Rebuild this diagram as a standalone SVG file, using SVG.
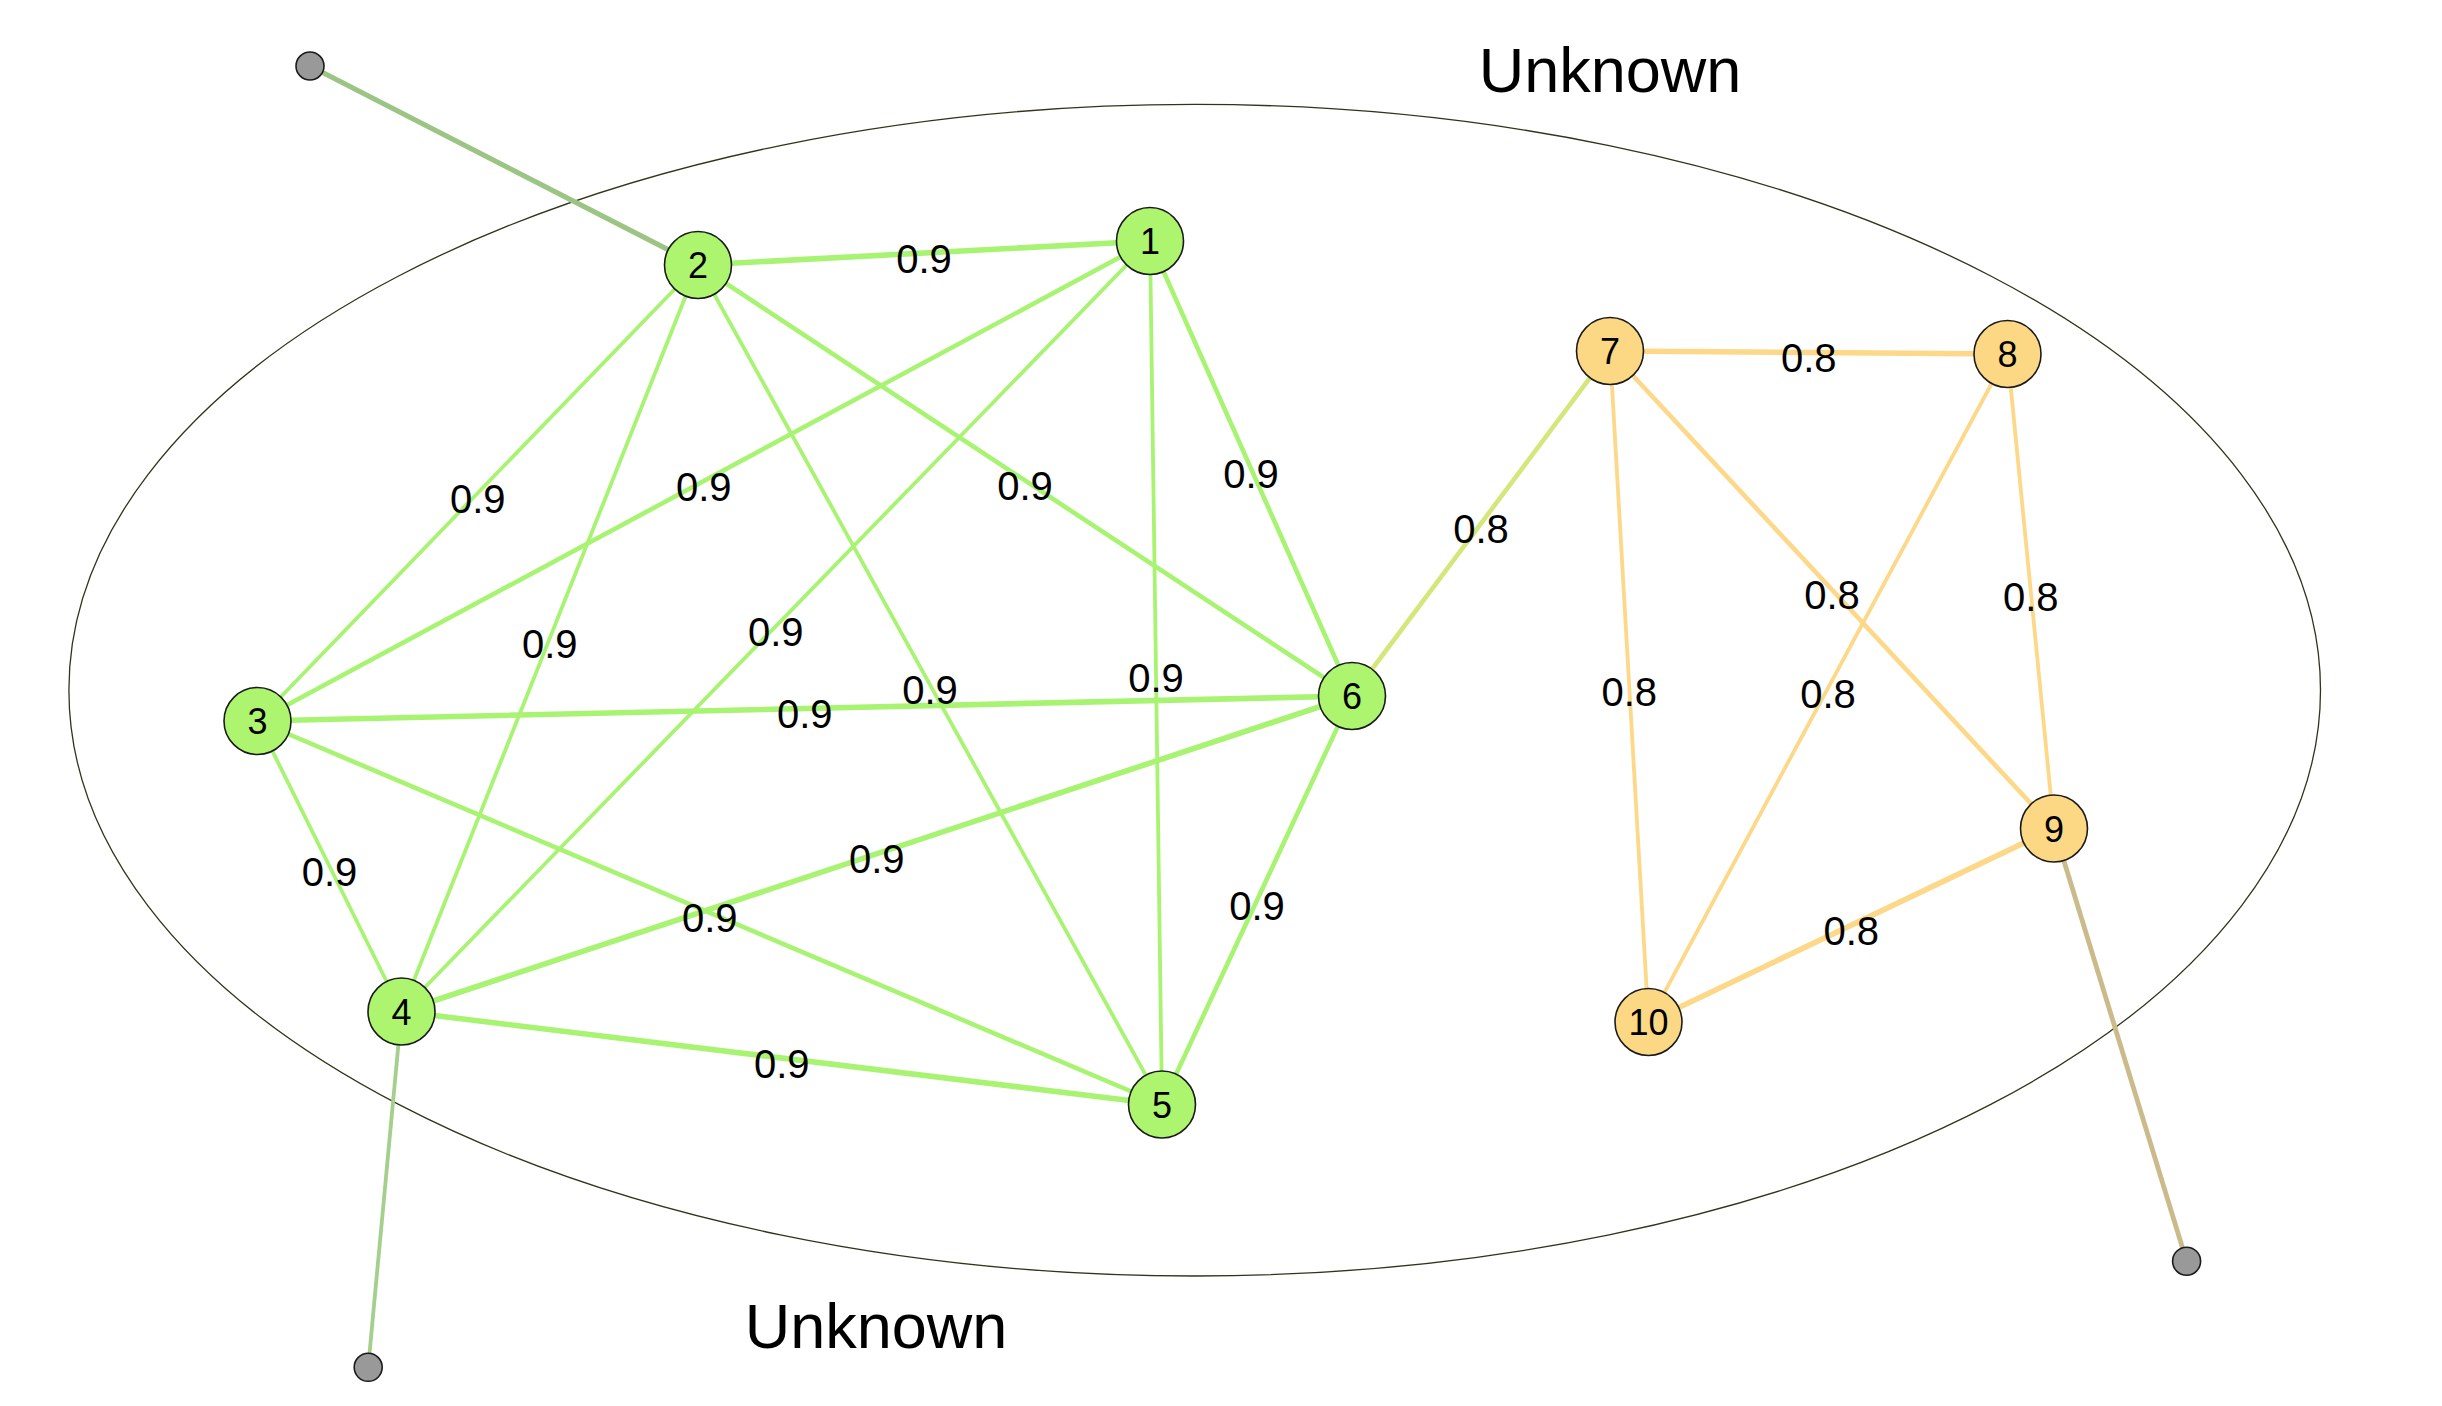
<svg xmlns="http://www.w3.org/2000/svg" width="2442" height="1406" viewBox="0 0 2442 1406">
<style>
.bg{fill:#ffffff}
.hull{fill:none;stroke:#33331a;stroke-width:1.3}
.eg{stroke:#a8f472;fill:none;stroke-linecap:round}
.eo{stroke:#fcd888;fill:none;stroke-linecap:round}
.t1{stroke-width:3.8}
.t2{stroke-width:4.6}
.t3{stroke-width:5.6}
.ng{fill:#adf56e;stroke:#1a1a1a;stroke-width:1.6}
.no{fill:#fcd884;stroke:#1a1a1a;stroke-width:1.6}
.nx{fill:#999999;stroke:#1a1a1a;stroke-width:1.6}
.nl{font-family:"Liberation Sans",Arial,sans-serif;font-size:36px;fill:#000;text-anchor:middle}
.el{font-family:"Liberation Sans",Arial,sans-serif;font-size:40px;fill:#000;text-anchor:middle}
.gl{font-family:"Liberation Sans",Arial,sans-serif;font-size:63px;fill:#000;text-anchor:middle}
</style>
<rect class="bg" x="0" y="0" width="2442" height="1406"/>
<ellipse class="hull" cx="1194.7" cy="690.2" rx="1125.8" ry="585.8"/>
<g id="group-labels">
<text class="gl" x="1610" y="91.7">Unknown</text>
<text class="gl" x="876" y="1348">Unknown</text>
</g>
<g id="connectors">
<line class="eg t3" x1="698" y1="265" x2="1150" y2="241"/>
<line class="eg t1" x1="698" y1="265" x2="257.5" y2="721"/>
<line class="eg t1" x1="698" y1="265" x2="401.5" y2="1011.5"/>
<line class="eg t1" x1="698" y1="265" x2="1162" y2="1104.5"/>
<line class="eg t2" x1="698" y1="265" x2="1352" y2="696"/>
<line class="eg t2" x1="1150" y1="241" x2="257.5" y2="721"/>
<line class="eg t1" x1="1150" y1="241" x2="401.5" y2="1011.5"/>
<line class="eg t1" x1="1150" y1="241" x2="1162" y2="1104.5"/>
<line class="eg t2" x1="1150" y1="241" x2="1352" y2="696"/>
<line class="eg t3" x1="257.5" y1="721" x2="1352" y2="696"/>
<line class="eg t1" x1="257.5" y1="721" x2="401.5" y2="1011.5"/>
<line class="eg t2" x1="257.5" y1="721" x2="1162" y2="1104.5"/>
<line class="eg t3" x1="401.5" y1="1011.5" x2="1352" y2="696"/>
<line class="eg t3" x1="401.5" y1="1011.5" x2="1162" y2="1104.5"/>
<line class="eg t2" x1="1352" y1="696" x2="1162" y2="1104.5"/>
<line stroke="#d3e77a" stroke-width="4.6" x1="1352" y1="696" x2="1610" y2="351"/>
<line class="eo t3" x1="1610" y1="351" x2="2007.5" y2="354"/>
<line class="eo t2" x1="1610" y1="351" x2="2054" y2="828.5"/>
<line class="eo t1" x1="1610" y1="351" x2="1648.5" y2="1022"/>
<line class="eo t1" x1="2007.5" y1="354" x2="2054" y2="828.5"/>
<line class="eo t1" x1="2007.5" y1="354" x2="1648.5" y2="1022"/>
<line class="eo t3" x1="2054" y1="828.5" x2="1648.5" y2="1022"/>
<line stroke="#9cc585" stroke-width="5.2" x1="698" y1="265" x2="310" y2="66"/>
<line stroke="#a4cf8c" stroke-width="3.8" x1="401.5" y1="1011.5" x2="368.2" y2="1367.3"/>
<line stroke="#cbba8a" stroke-width="4.8" x1="2054" y1="828.5" x2="2186.6" y2="1261.2"/>
</g>
<g id="edge-labels">
<text class="el" x="924" y="272.5">0.9</text>
<text class="el" x="477.8" y="512.5">0.9</text>
<text class="el" x="549.8" y="657.8">0.9</text>
<text class="el" x="930" y="704.2">0.9</text>
<text class="el" x="1025" y="500">0.9</text>
<text class="el" x="703.8" y="500.5">0.9</text>
<text class="el" x="775.8" y="645.8">0.9</text>
<text class="el" x="1156" y="692.2">0.9</text>
<text class="el" x="1251" y="488">0.9</text>
<text class="el" x="804.8" y="728">0.9</text>
<text class="el" x="329.5" y="885.8">0.9</text>
<text class="el" x="709.8" y="932.2">0.9</text>
<text class="el" x="876.8" y="873.2">0.9</text>
<text class="el" x="781.8" y="1077.5">0.9</text>
<text class="el" x="1257" y="919.8">0.9</text>
<text class="el" x="1481" y="543">0.8</text>
<text class="el" x="1808.8" y="372">0.8</text>
<text class="el" x="1832" y="609.2">0.8</text>
<text class="el" x="2030.8" y="610.8">0.8</text>
<text class="el" x="1629.2" y="706">0.8</text>
<text class="el" x="1828" y="707.5">0.8</text>
<text class="el" x="1851.2" y="944.8">0.8</text>
</g>
<g id="node-1"><circle class="ng" cx="1150" cy="241" r="33.5"/><text class="nl" x="1150" y="254">1</text></g>
<g id="node-2"><circle class="ng" cx="698" cy="265" r="33.5"/><text class="nl" x="698" y="278">2</text></g>
<g id="node-3"><circle class="ng" cx="257.5" cy="721" r="33.5"/><text class="nl" x="257.5" y="734">3</text></g>
<g id="node-4"><circle class="ng" cx="401.5" cy="1011.5" r="33.5"/><text class="nl" x="401.5" y="1024.5">4</text></g>
<g id="node-5"><circle class="ng" cx="1162" cy="1104.5" r="33.5"/><text class="nl" x="1162" y="1117.5">5</text></g>
<g id="node-6"><circle class="ng" cx="1352" cy="696" r="33.5"/><text class="nl" x="1352" y="709">6</text></g>
<g id="node-7"><circle class="no" cx="1610" cy="351" r="33.5"/><text class="nl" x="1610" y="364">7</text></g>
<g id="node-8"><circle class="no" cx="2007.5" cy="354" r="33.5"/><text class="nl" x="2007.5" y="367">8</text></g>
<g id="node-9"><circle class="no" cx="2054" cy="828.5" r="33.5"/><text class="nl" x="2054" y="841.5">9</text></g>
<g id="node-10"><circle class="no" cx="1648.5" cy="1022" r="33.5"/><text class="nl" x="1648.5" y="1035">10</text></g>
<g id="node-ext-a"><circle class="nx" cx="310" cy="66" r="14"/></g>
<g id="node-ext-b"><circle class="nx" cx="368.2" cy="1367.3" r="14"/></g>
<g id="node-ext-c"><circle class="nx" cx="2186.6" cy="1261.2" r="14"/></g>
</svg>
